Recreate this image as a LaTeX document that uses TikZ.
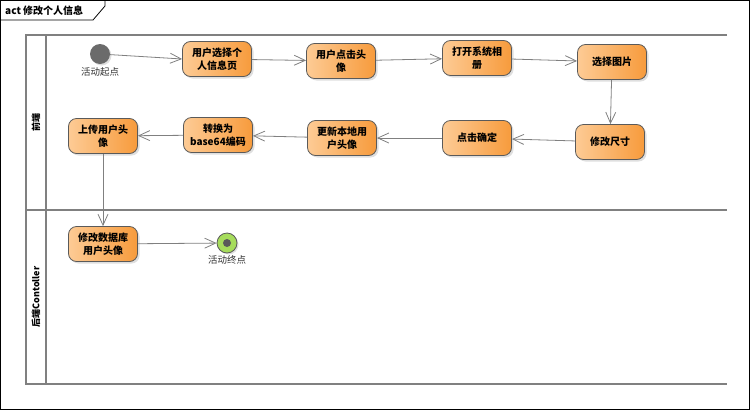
\documentclass[tikz,border=0pt]{standalone}
\usepackage{fontspec}
\setmainfont{Noto Sans CJK SC}
\usetikzlibrary{arrows.meta,shadows}
\definecolor{actL}{HTML}{FDCB95}
\definecolor{actR}{HTML}{F79B3C}
\definecolor{actB}{HTML}{5A5A5A}
\definecolor{lanec}{HTML}{808080}
\definecolor{endg}{HTML}{A6DC5C}
\tikzset{
  act/.style={draw=actB, line width=0.8pt, rounded corners=8pt, left color=actL, right color=actR,
    minimum width=69pt, minimum height=35pt, align=center, inner sep=1pt,
    font=\fontsize{10}{12.5}\selectfont\bfseries,
    drop shadow={opacity=0.25, shadow xshift=2pt, shadow yshift=-2pt}},
  flow/.style={draw=lanec, line width=0.8pt, -{Straight Barb[length=11pt,width=10pt]}},
  lane/.style={draw=lanec, line width=1.3pt},
  small/.style={font=\fontsize{9.5}{11}\selectfont, text=black!80}
}
\begin{document}
\begin{tikzpicture}[x=1pt,y=-1pt]
\useasboundingbox (0,0) rectangle (751,410);
% outer frame
\draw[black, line width=0.8pt] (0.5,0.5) rectangle (749.5,409);
\draw[black, line width=0.8pt] (0.5,20) -- (93,20) -- (105,6) -- (105,0.5);
\node[anchor=west, font=\fontsize{10}{11}\selectfont\bfseries, inner sep=0pt] (title) at (5,11) {act 修改个人信息};
% lanes
\draw[lane] (727,35) -- (26,35) -- (26,384) -- (727,384);
\draw[lane] (46,35) -- (46,384);
\draw[lane] (26,210) -- (727,210);
\node[rotate=90, font=\fontsize{9}{10}\selectfont\bfseries, inner sep=0pt] (l1) at (36,122) {前端};
\node[rotate=90, font=\fontsize{9}{10}\selectfont\bfseries, inner sep=0pt] (l2) at (36,297) {后端Contoller};
% start / end
\node[circle, fill=actB!90, minimum size=20pt, inner sep=0pt, drop shadow={opacity=0.25, shadow xshift=1.5pt, shadow yshift=-1.5pt}] (start) at (100,54) {};
\node[small, inner sep=0pt] (startl) at (100,72) {活动起点};
\node[circle, draw=actB, line width=0.8pt, fill=endg, minimum size=20pt, inner sep=0pt, drop shadow={opacity=0.25, shadow xshift=1.5pt, shadow yshift=-1.5pt}] (end) at (227,243) {};
\node[circle, fill=actB, minimum size=8pt, inner sep=0pt] (endin) at (end) {};
\node[small, inner sep=0pt] (endl) at (227,260) {活动终点};
% activities
\node[act] (a1) at (217,59) {用户选择个\\人信息页};
\node[act] (a2) at (341,61) {用户点击头\\像};
\node[act] (a3) at (477,58) {打开系统相\\册};
\node[act] (a4) at (612,62) {选择图片};
\node[act] (a5) at (610,142) {修改尺寸};
\node[act] (a6) at (477,138) {点击确定};
\node[act] (a7) at (342,138) {更新本地用\\户头像};
\node[act] (a8) at (218,135) {转换为\\base64编码};
\node[act] (a9) at (103,136) {上传用户头\\像};
\node[act] (a10) at (103,244) {修改数据库\\用户头像};
% flows
\draw[flow] (start) -- (a1.west);
\draw[flow] (a1) -- (a2);
\draw[flow] (a2) -- (a3);
\draw[flow] (a3) -- (a4);
\draw[flow] (a4) -- (a5);
\draw[flow] (a5) -- (a6);
\draw[flow] (a6) -- (a7);
\draw[flow] (a7) -- (a8);
\draw[flow] (a8) -- (a9);
\draw[flow] (a9) -- (a10);
\draw[flow] (a10) -- (end);
\end{tikzpicture}
\end{document}
